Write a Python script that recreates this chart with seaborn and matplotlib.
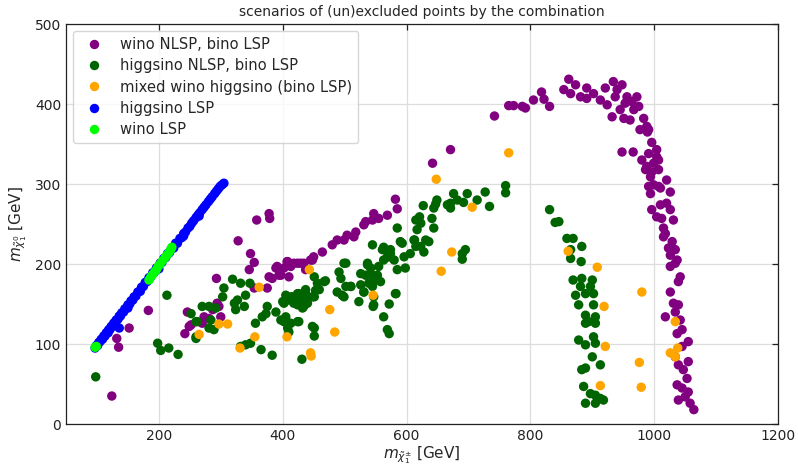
import numpy as np
import pandas as pd
import matplotlib
matplotlib.use("Agg")
import matplotlib.pyplot as plt
import seaborn as sns

# ---------------- data ----------------
categories = ["wino NLSP, bino LSP", "higgsino NLSP, bino LSP",
              "mixed wino higgsino (bino LSP)", "higgsino LSP", "wino LSP"]
colors = ["#800080", "#006400", "#FFA500", "#0000FF", "#00FF00"]

wino_nlsp_x = [124, 132, 135, 152, 183, 242, 246, 249, 270, 273, 287, 294, 297, 300, 252, 281,
               293, 328, 358, 378, 379, 348, 354, 346, 354, 375, 378, 383, 397, 410, 391, 407,
               418, 429, 445, 450, 464, 480, 389, 394, 402, 408, 413, 424, 434, 437, 448, 488,
               499, 504, 518, 515, 531, 534, 545, 547, 555, 569, 582, 585, 642, 671, 742, 765,
               773, 787, 792, 805, 818, 822, 831, 862, 854, 865, 873, 881, 891, 891, 902, 913,
               921, 924, 932, 934, 940, 948, 937, 945, 953, 956, 964, 972, 967, 975, 961, 951,
               983, 988, 991, 948, 966, 996, 991, 980, 988, 999, 994, 991, 1007, 1004, 977, 989,
               1004, 1007, 986, 996, 1007, 999, 1020, 1010, 1026, 994, 996, 1010, 1020, 1026,
               1004, 1012, 1031, 1015, 1018, 1015, 1029, 1023, 1034, 1026, 1037, 1026, 1034,
               1042, 1039, 1026, 1018, 1034, 1039, 1031, 1042, 1045, 1037, 1055, 1045, 1034,
               1055, 1039, 1047, 1053, 1037, 1045, 1055, 1050, 1039, 1058, 1064]
wino_nlsp_y = [35, 107, 96, 120, 142, 113, 140, 122, 126, 134, 143, 151, 147, 134, 124, 132,
               182, 229, 255, 263, 257, 213, 202, 193, 170, 170, 184, 182, 186, 184, 197, 203,
               201, 201, 205, 209, 215, 224, 195, 186, 195, 203, 197, 201, 201, 193, 205, 230,
               230, 236, 240, 234, 249, 253, 255, 263, 257, 261, 281, 269, 326, 343, 385, 398,
               398, 397, 395, 405, 415, 406, 397, 431, 418, 413, 424, 409, 420, 407, 413, 405,
               420, 399, 384, 428, 418, 424, 409, 393, 401, 409, 403, 409, 393, 397, 380, 382,
               382, 372, 368, 340, 340, 352, 338, 330, 322, 326, 309, 297, 297, 334, 368, 365,
               343, 330, 318, 315, 318, 299, 305, 295, 290, 288, 268, 274, 276, 268,
               259, 257, 255, 245, 238, 234, 228, 220, 218, 211, 205, 197, 201,
               184, 178, 165, 134, 140, 149, 151, 130, 118, 113, 103, 97, 84,
               78, 74, 68, 57, 49, 45, 40, 34, 30, 26, 18]

higgsino_nlsp_x = [98, 198, 203, 216, 231, 213, 252, 260, 270, 260, 319, 305, 332, 347, 303, 340,
                   327, 322, 338, 324, 281, 292, 284, 262, 289, 281, 260, 375, 373, 367, 356,
                   389, 405, 413, 424, 429, 437, 440, 434, 418, 402, 410, 426, 397, 405, 413,
                   424, 408, 451, 456, 467, 459, 451, 491, 499, 494, 502, 488, 499, 451, 451,
                   340, 332, 365, 383, 431, 469, 453, 448, 437, 426, 416, 400, 418, 429, 440,
                   432, 424, 402, 426, 410, 448, 348, 502, 510, 526, 523, 531, 545, 537, 539,
                   545, 547, 555, 558, 563, 569, 574, 561, 547, 563, 569, 572, 582, 585, 585,
                   593, 598, 606, 612, 623, 628, 617, 631, 636, 641, 644, 644, 649, 666, 671,
                   676, 682, 698, 714, 727, 734, 760, 760, 690, 695, 690, 534, 553, 542, 550,
                   526, 510, 496, 531, 546, 572, 583, 545, 563, 574, 572, 580, 596, 537, 613,
                   615, 590, 627, 621, 623, 615, 692, 671, 647, 831, 840, 846, 859, 869, 883,
                   865, 865, 882, 869, 883, 900, 881, 897, 873, 889, 902, 878, 902, 889, 905,
                   889, 905, 894, 878, 889, 902, 905, 900, 913, 889, 883, 886, 897, 889, 905,
                   918, 913, 905]
higgsino_nlsp_y = [59, 101, 92, 95, 87, 161, 138, 128, 147, 109, 181, 170, 176, 176, 159, 161,
                   155, 151, 147, 143, 147, 145, 130, 128, 118, 120, 107, 147, 138, 134, 126,
                   140, 161, 159, 163, 155, 168, 157, 147, 151, 151, 155, 159, 130, 134, 126,
                   128, 120, 184, 176, 178, 168, 159, 190, 201, 182, 172, 165, 159, 120, 110,
                   99, 97, 93, 86, 81, 179, 167, 159, 163, 163, 159, 153, 153, 157, 151,
                   145, 149, 128, 128, 115, 122, 101, 201, 172, 188, 153, 165, 186, 199, 176,
                   172, 159, 197, 178, 205, 209, 213, 218, 149, 134, 118, 113, 163, 245, 193,
                   226, 195, 213, 230, 222, 215, 243, 230, 228, 257, 245, 270, 280, 274, 270,
                   288, 280, 288, 280, 290, 272, 298, 289, 213, 218, 206, 186, 186, 195, 180,
                   174, 172, 161, 165, 147, 150, 163, 224, 221, 218, 209, 205, 209, 201, 230,
                   222, 228, 273, 259, 251, 255, 277, 276, 275, 268, 252, 253, 232, 232, 222,
                   218, 207, 203, 180, 182, 180, 172, 172, 161, 163, 163, 149, 149, 136, 134,
                   126, 126, 128, 105, 99, 109, 101, 84, 74, 70, 68, 47, 38, 26, 26,
                   30, 32, 36]

mixed_x = [265, 297, 311, 331, 355, 362, 407, 443, 445, 446, 476, 484, 546, 648, 656, 673,
           706, 765, 861, 908, 919, 921, 913, 976, 979, 980, 1034, 1026, 1038, 1034]
mixed_y = [112, 125, 125, 95, 109, 171, 109, 193, 89, 85, 143, 115, 161, 306, 191, 215,
           271, 339, 216, 196, 147, 97, 48, 77, 46, 165, 128, 89, 95, 84]

higgsino_lsp_x = [97, 99, 101, 103, 105, 107, 109, 111, 113, 115, 117, 119, 121, 123, 125, 127,
                  129, 131, 134, 136, 138, 140, 143, 145, 148, 150, 153, 155, 158, 160, 163,
                  166, 169, 172, 175, 178, 181, 184, 187, 190, 193, 196, 199, 202, 205, 208,
                  211, 214, 217, 220, 224, 227, 230, 234, 237, 240, 243, 247, 250, 253, 256,
                  260, 263, 266, 270, 273, 276, 280, 283, 286, 290, 293, 296, 299, 302, 305,
                  136, 130, 118, 150, 170, 200, 240, 265]
higgsino_lsp_y = [95, 98, 98, 102, 103, 106, 106, 110, 110, 114, 115, 118, 118, 122, 122, 126,
                  127, 130, 131, 135, 135, 139, 140, 144, 145, 149, 150, 154, 155, 159, 160,
                  165, 166, 171, 172, 177, 178, 183, 184, 189, 190, 195, 196, 201, 202, 207,
                  208, 213, 214, 219, 220, 226, 226, 232, 233, 238, 240, 245, 247, 251, 254,
                  258, 261, 264, 268, 271, 274, 278, 281, 284, 288, 291, 294, 297, 299, 301,
                  120, 124, 114, 145, 166, 194, 235, 260]

wino_lsp_x = [97, 99, 184, 187, 190, 193, 196, 199, 202, 206, 210, 213, 216, 219, 221]
wino_lsp_y = [96, 97, 180, 184, 187, 190, 193, 197, 200, 204, 208, 211, 214, 218, 221]

xs = [wino_nlsp_x, higgsino_nlsp_x, mixed_x, higgsino_lsp_x, wino_lsp_x]
ys = [wino_nlsp_y, higgsino_nlsp_y, mixed_y, higgsino_lsp_y, wino_lsp_y]

frames = []
for cat, x, y in zip(categories, xs, ys):
    frames.append(pd.DataFrame({"x": x, "y": y, "cat": cat}))
df = pd.concat(frames, ignore_index=True)

# ---------------- plot ----------------
sns.set_style("white")
plt.rcParams["font.family"] = ["DejaVu Sans"]

fig = plt.figure(figsize=(7.98, 4.67), dpi=100)
ax = fig.add_axes([0.0827, 0.092, 0.8923, 0.8566])

sns.scatterplot(data=df, x="x", y="y", hue="cat", hue_order=categories,
                palette=dict(zip(categories, colors)), s=46, linewidth=0,
                ax=ax, zorder=3)

ax.set_xlim(50, 1200)
ax.set_ylim(0, 500)
ax.set_xticks([200, 400, 600, 800, 1000, 1200])
ax.set_yticks([0, 100, 200, 300, 400, 500])
ax.grid(True, color="#dddddd", linewidth=0.9, zorder=0)
ax.set_axisbelow(True)
ax.tick_params(direction="in", top=True, right=True, length=4, width=0.9,
               labelsize=10, colors="#222222")
for sp in ax.spines.values():
    sp.set_color("#222222")
    sp.set_linewidth(0.9)

ax.set_xlabel(r"$m_{\tilde{\chi}_1^{\pm}}$ [GeV]", fontsize=11, labelpad=1)
ax.set_ylabel(r"$m_{\tilde{\chi}_1^{0}}$ [GeV]", fontsize=11)
ax.set_title("scenarios of (un)excluded points by the combination", fontsize=10)

handles, labels = ax.get_legend_handles_labels()
ax.legend(handles, labels, loc="upper left", fontsize=10.6, frameon=True,
          labelspacing=0.42)

fig.savefig("out.png", dpi=100)
